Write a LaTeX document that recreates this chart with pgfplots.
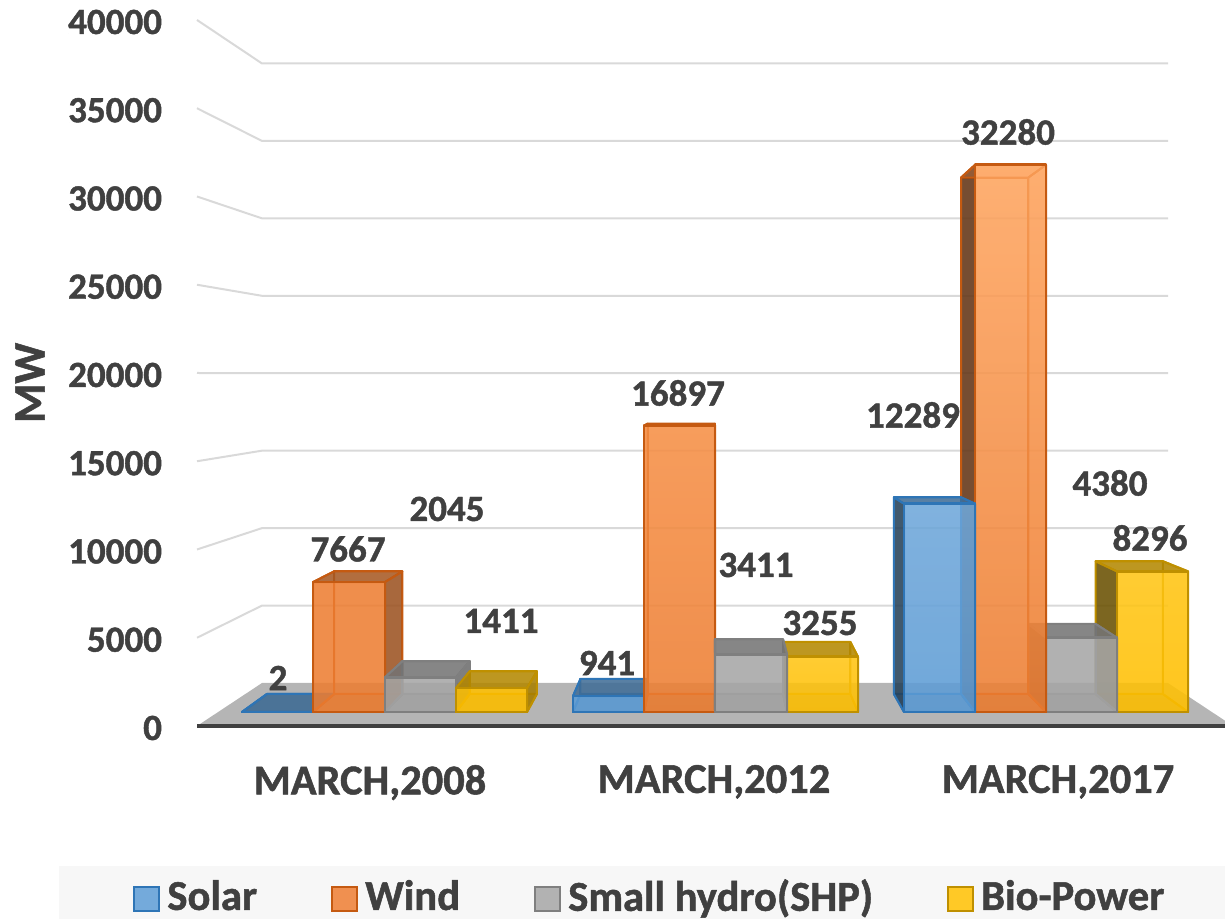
\documentclass[border=0pt]{standalone}
\usepackage{fontspec}
\setmainfont{Carlito}[BoldFeatures={FakeBold=1.2}]
\usepackage{xfp}
\usepackage{pgfplots}
\pgfplotsset{compat=1.18}
\definecolor{sol}{HTML}{5B9BD5}\definecolor{sole}{HTML}{2E75B6}
\definecolor{win}{HTML}{ED7D31}\definecolor{wine}{HTML}{C55A11}
\definecolor{shp}{HTML}{A5A5A5}\definecolor{shpe}{HTML}{7F7F7F}
\definecolor{bio}{HTML}{FFC000}\definecolor{bioe}{HTML}{BF9000}
\definecolor{wintop}{HTML}{FFA55F}\definecolor{winmid}{HTML}{F78F45}
\definecolor{txt}{HTML}{404040}
\definecolor{gridc}{HTML}{D9D9D9}
% f0, f1 (front face, px), value, fill, edge, left-face opts, right-face opts, top-face opts, colour at top of front face
\newcommand{\barcore}[9]{%
 \edef\bxa{\fpeval{round(0.947*#1+37.8,2)}}%
 \edef\bxb{\fpeval{round(0.947*#2+37.8,2)}}%
 \edef\bt{\fpeval{round(1062+0.94395*#3,1)}}%
 \addplot[forget plot,line join=round,draw=#5,line width=1pt,fill=#4,fill opacity=.12] coordinates {(\bxa,1062)(\bxb,1062)(\bxb,\bt)(\bxa,\bt)} --cycle;
 \addplot[forget plot,line join=round,draw=#5,line width=1pt,fill=#4!70!black,fill opacity=.35] coordinates {(#1,0)(#2,0)(\bxb,1062)(\bxa,1062)} --cycle;
 \addplot[forget plot,line join=round,draw=#5,line width=1pt,#6] coordinates {(#1,0)(\bxa,1062)(\bxa,\bt)(#1,#3)} --cycle;
 \addplot[forget plot,line join=round,draw=#5,line width=1pt,#7] coordinates {(#2,0)(\bxb,1062)(\bxb,\bt)(#2,#3)} --cycle;
 \addplot[forget plot,line join=round,draw=#5,line width=1pt,#8] coordinates {(#1,#3)(#2,#3)(\bxb,\bt)(\bxa,\bt)} --cycle;
 \addplot[forget plot,line join=round,draw=#5,line width=1.4pt,top color=#9,bottom color=#4,fill opacity=.85] coordinates {(#1,0)(#2,0)(#2,#3)(#1,#3)} --cycle;
}
\newcommand{\barL}[6]{\barcore{#1}{#2}{#3}{#4}{#5}{fill=#4,fill opacity=.12}{fill=#4!65!black,fill opacity=.85}{fill=#4!70!black,fill opacity=.85}{#6}}
\newcommand{\barR}[6]{\barcore{#1}{#2}{#3}{#4}{#5}{fill=#4!40!black,fill opacity=.85}{fill=#4,fill opacity=.2}{fill=#4!70!black,fill opacity=.85}{#6}}
\newcommand{\barU}[6]{\barcore{#1}{#2}{#3}{#4}{#5}{fill=#4!40!black,fill opacity=.85}{fill=#4,fill opacity=.2}{fill=#4,fill opacity=.25}{#6}}
\newcommand{\lab}[3]{\node[text=txt,font=\bfseries\fontsize{18.5}{20}\selectfont,anchor=center,inner sep=0pt] at (axis cs:#1,#2) {#3};}
\begin{document}
\begin{tikzpicture}
\path[use as bounding box] (0,0) rectangle (612.5pt,459.5pt);
\fill[fill=black!3] (29.5pt,0) rectangle (612.5pt,26.5pt);
\begin{axis}[
  at={(98.5pt,96.5pt)},anchor=south west,scale only axis,
  width=514pt,height=353pt,
  xmin=197,xmax=1225,ymin=0,ymax=40000,
  clip=false,axis on top=true,
  axis lines=left,
  axis line style={-},
  y axis line style={draw=none},
  x axis line style={draw=txt,line width=1.7pt},
  major tick length=0pt,
  xtick={370,714,1058},
  xticklabels={{MARCH,2008},{MARCH,2012},{MARCH,2017}},
  ytick={0,5000,10000,15000,20000,25000,30000,35000,40000},
  scaled y ticks=false,
  /pgf/number format/.cd,set thousands separator={},assume math mode=true,
  /pgfplots/.cd,
  yticklabel shift=14pt,
  xticklabel shift=16pt,
  tick label style={text=txt,font=\bfseries\fontsize{18.5}{20}\selectfont},
  yticklabel style={yshift=-1pt},
  xticklabel style={font=\bfseries\fontsize{21.2}{23}\selectfont},
  ylabel={MW},
  every axis y label/.style={at={(axis description cs:-0.1625,0.486)},rotate=90,anchor=center},
  ylabel style={text=txt,font=\bfseries\fontsize{22.5}{24}\selectfont},
]
\addplot[draw=gridc,line width=1pt] coordinates {(197,5000)(262,6824)(1168,6824)};
\addplot[draw=gridc,line width=1pt] coordinates {(197,10000)(262,11211)(1168,11211)};
\addplot[draw=gridc,line width=1pt] coordinates {(197,15000)(262,15599)(1168,15599)};
\addplot[draw=gridc,line width=1pt] coordinates {(197,20000)(262,19986)(1168,19986)};
\addplot[draw=gridc,line width=1pt] coordinates {(197,25000)(262,24373)(1168,24373)};
\addplot[draw=gridc,line width=1pt] coordinates {(197,30000)(262,28761)(1168,28761)};
\addplot[draw=gridc,line width=1pt] coordinates {(197,35000)(262,33148)(1168,33148)};
\addplot[draw=gridc,line width=1pt] coordinates {(197,40000)(262,37536)(1168,37536)};
\addplot[draw=none,fill=black!29] coordinates {(197,0)(262,2436)(1168,2436)(1233,0)} --cycle;
\end{axis}
\begin{axis}[
  at={(0pt,0pt)},anchor=south west,scale only axis,
  width=612.5pt,height=459.5pt,
  xmin=0,xmax=1225,ymin=-12212.4,ymax=42005.9,
  hide axis,clip=false,
  legend columns=4,
  legend image code/.code={\draw[#1] (0pt,-7.5pt) rectangle (12.5pt,4.8pt);\path (13.5pt,0pt);},
  legend style={draw=none,fill=none,at={(axis cs:132.6,-10885)},anchor=west,inner sep=0pt,
    text=txt,font=\bfseries\fontsize{21.3}{23}\selectfont,
    nodes={inner xsep=2.7pt,inner ysep=0pt},
    /tikz/column 2/.style={column sep=34.2pt},
    /tikz/column 4/.style={column sep=34.2pt},
    /tikz/column 6/.style={column sep=34.2pt}},
]
% MARCH,2008
\barL{242}{313}{2}{sol}{sole}{sol}
\barL{313}{385}{7667}{win}{wine}{win}
\barL{385}{456}{2045}{shp}{shpe}{shp}
\barL{456}{527}{1411}{bio}{bioe}{bio}
% MARCH,2012 (left of the vanishing point)
\barL{573}{644}{941}{sol}{sole}{sol}
\barL{644}{715}{16897}{win}{wine}{winmid}
% MARCH,2017, right to left
\barR{1117}{1188}{8296}{bio}{bioe}{bio!92!white}
\barR{1046}{1117}{4380}{shp}{shpe}{shp}
\barU{975}{1046}{32280}{win}{wine}{wintop}
\barR{904}{975}{12289}{sol}{sole}{sol!88!white}
% MARCH,2012 (right of the vanishing point)
\barR{787}{858}{3255}{bio}{bioe}{bio!92!white}
\barR{715}{787}{3411}{shp}{shpe}{shp}
\lab{278}{2006}{2}
\lab{348}{9617}{7667}
\lab{447}{11976}{2045}
\lab{501}{5369}{1411}
\lab{607}{2891}{941}
\lab{678}{18820}{16897}
\lab{756}{8673}{3411}
\lab{820}{5251}{3255}
\lab{913}{17522}{12289}
\lab{1008}{34218}{32280}
\lab{1110}{13510}{4380}
\lab{1150}{10265}{8296}
\addlegendimage{draw=sole,line width=1pt,fill=sol!85!white}\addlegendentry{Solar}
\addlegendimage{draw=wine,line width=1pt,fill=win!85!white}\addlegendentry{Wind}
\addlegendimage{draw=shpe,line width=1pt,fill=shp!85!white}\addlegendentry{Small hydro(SHP)}
\addlegendimage{draw=bioe,line width=1pt,fill=bio!85!white}\addlegendentry{Bio-Power}
\end{axis}
\end{tikzpicture}
\end{document}
